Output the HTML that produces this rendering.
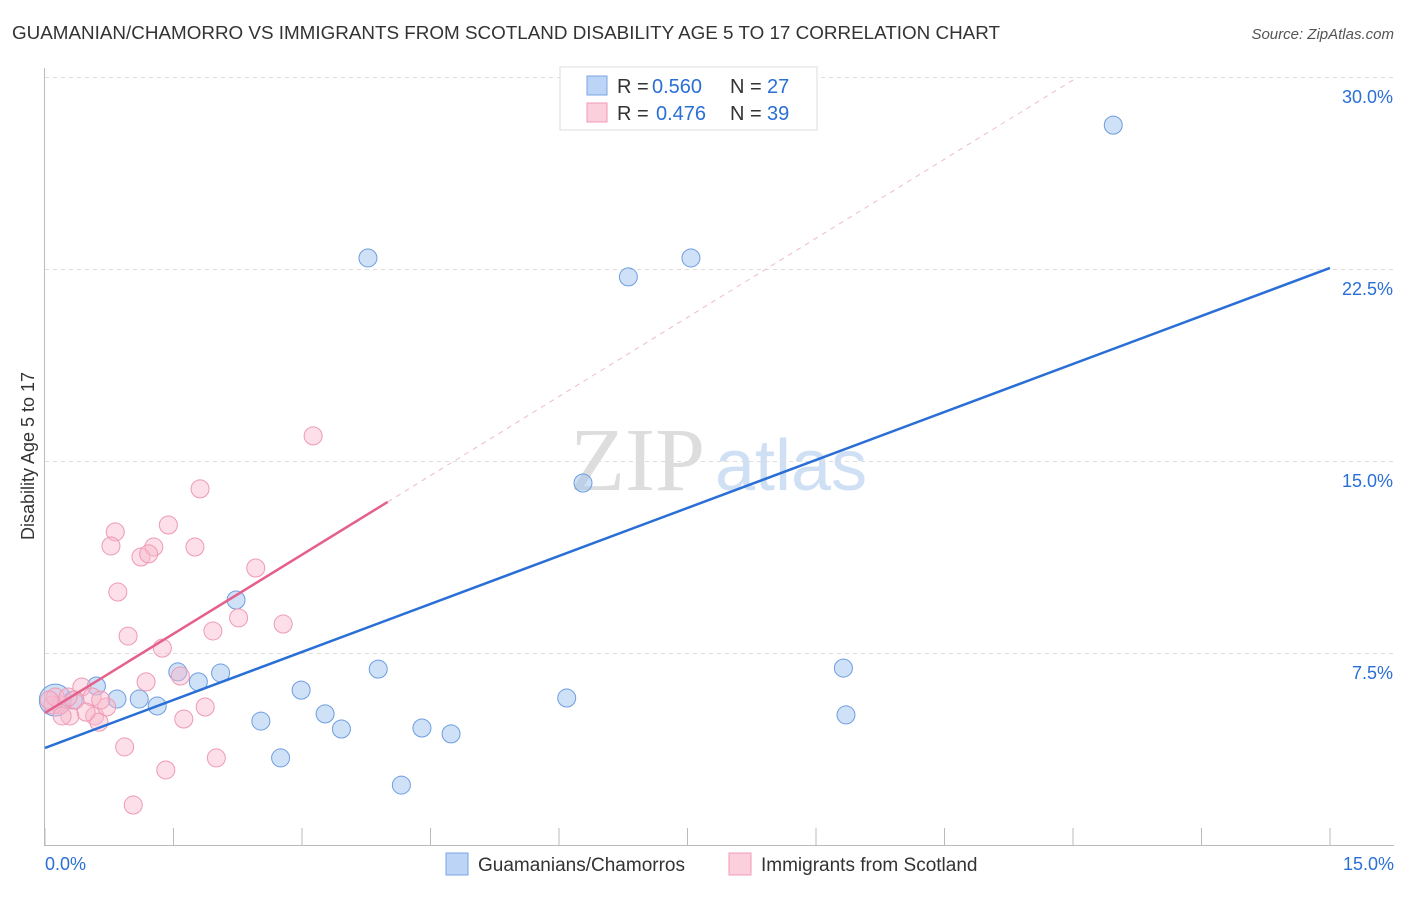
<!DOCTYPE html>
<html><head><meta charset="utf-8"><style>
body{margin:0;background:#fff;font-family:"Liberation Sans",sans-serif}
</style></head><body>
<svg id="c" width="1406" height="892" xmlns="http://www.w3.org/2000/svg">
<text x="12" y="39" font-size="18" textLength="988" lengthAdjust="spacingAndGlyphs" fill="#333">GUAMANIAN/CHAMORRO VS IMMIGRANTS FROM SCOTLAND DISABILITY AGE 5 TO 17 CORRELATION CHART</text>
<text x="1394" y="39" font-size="15" fill="#555" font-style="italic" text-anchor="end">Source: ZipAtlas.com</text>
<text x="705" y="490" font-size="90" fill="#ddd" font-family="Liberation Serif" text-anchor="end">ZIP</text>
<text x="715" y="490" font-size="72" fill="#cfe0f5">atlas</text>
<text transform="translate(34,456) rotate(-90)" font-size="18" fill="#333" text-anchor="middle">Disability Age 5 to 17</text>
<g id="grid"></g><g id="marks"></g>
<g>
<rect x="560" y="67" width="257" height="63" fill="#fff" stroke="#ddd"/>
<rect x="587" y="76" width="20" height="19" fill="#bcd4f5" stroke="#7aa6e6"/>
<rect x="587" y="103" width="20" height="19" fill="#fbcfdc" stroke="#f09ab5"/>
<text x="617" y="93" font-size="20" fill="#333">R =</text>
<text x="652" y="93" font-size="20" fill="#2a6fd6">0.560</text>
<text x="730" y="93" font-size="20" fill="#333">N =</text>
<text x="767" y="93" font-size="20" fill="#2a6fd6">27</text>
<text x="617" y="120" font-size="20" fill="#333">R =</text>
<text x="656" y="120" font-size="20" fill="#2a6fd6">0.476</text>
<text x="730" y="120" font-size="20" fill="#333">N =</text>
<text x="767" y="120" font-size="20" fill="#2a6fd6">39</text>
</g>
<g>
<rect x="446" y="853" width="22" height="22" fill="#bcd4f5" stroke="#7aa6e6"/>
<text x="478" y="871" font-size="19" fill="#333">Guamanians/Chamorros</text>
<rect x="729" y="853" width="22" height="22" fill="#fbcfdc" stroke="#f09ab5"/>
<text x="761" y="871" font-size="19" fill="#333">Immigrants from Scotland</text>
</g>
</svg>
<script>
const blueX=[12.47,3.77,6.81,7.54,6.28,2.23,1.55,2.05,1.79,3.89,9.32,0.60,0.84,1.10,1.31,2.99,3.27,3.46,2.52,2.75,4.40,4.74,4.16,6.09,9.35,0.12,0.33];
const blueY=[28.16,22.97,22.23,22.97,14.18,9.61,6.80,6.76,6.41,6.91,6.95,6.25,5.74,5.74,5.47,6.09,5.16,4.57,4.88,3.44,4.61,4.38,2.38,5.78,5.12,5.70,5.70];
const pinkX=[3.13,1.81,1.44,0.82,0.77,1.27,1.75,1.12,1.21,2.46,0.85,2.26,2.78,0.97,1.96,1.37,1.18,1.58,1.87,1.62,0.43,0.58,0.29,0.63,0.93,1.41,1.03,2.00,0.72,0.55,0.18,0.09,0.35,0.48,0.20,0.12,0.65,0.27,0.05];
const pinkY=[16.02,13.95,12.54,12.27,11.72,11.68,11.68,11.29,11.41,10.86,9.92,8.91,8.67,8.20,8.40,7.73,6.41,6.64,5.43,4.96,6.21,5.08,5.08,4.84,3.87,2.97,1.60,3.44,5.43,5.82,5.51,5.51,5.70,5.23,5.08,5.82,5.70,5.82,5.70];
const yTicks=[7.5,15,22.5,30];
const yTickLabels=["7.5%","15.0%","22.5%","30.0%"];
const xTicks=[0,1.5,3,4.5,6,7.5,9,10.5,12,13.5,15];
const blueLine=[3.83,22.58]; // y at x=0 and x=15
const pinkLine=[5.20,2.06]; // intercept, slope
const pinkSolidEnd=4.0;
const sx=v=>45+v/15*1285, sy=v=>846-v/7.5*192;
const NS="http://www.w3.org/2000/svg";
const g=document.getElementById('grid'), m=document.getElementById('marks');
function el(t,a,p){const e=document.createElementNS(NS,t);for(const k in a)e.setAttribute(k,a[k]);p.appendChild(e);return e;}
yTicks.forEach((t,i)=>{
 const l=el('line',{x1:45,x2:1394,y1:sy(t)-0.5,y2:sy(t)-0.5,stroke:'#ddd','stroke-dasharray':'4,4'},g);
 
 
 const tx=el('text',{x:1393,y:sy(t)+25,'font-size':18,fill:'#2a6fd6','text-anchor':'end'},g);
 tx.textContent=yTickLabels[i];
 
 
});
const ax=el('line',{x1:44.5,x2:44.5,y1:68,y2:846,stroke:'#bbb'},g);


const bx=el('line',{x1:45,x2:1394,y1:845.5,y2:845.5,stroke:'#bbb'},g);


xTicks.forEach(t=>{const l=el('line',{x1:sx(t),x2:sx(t),y1:828,y2:846,stroke:'#bbb'},g);
 
 });
[["0.0%",45,'start'],["15.0%",1394,'end']].forEach(([s,x,a])=>{const t=el('text',{x:x,y:870,'font-size':18,fill:'#2a6fd6','text-anchor':a},g);t.textContent=s;
 
 });
blueX.forEach((x,i)=>{const c=el('circle',{cx:sx(x),cy:sy(blueY[i]),r:i==25?16:9,fill:'rgba(160,195,240,0.5)',stroke:'#6d9de0','stroke-width':1},m);
 
 });
pinkX.forEach((x,i)=>{const c=el('circle',{cx:sx(x),cy:sy(pinkY[i]),r:9,fill:'rgba(248,185,205,0.45)',stroke:'#ee9ab4','stroke-width':1},m);
 
 });
const bl=el('line',{x1:sx(0),y1:sy(blueLine[0]),x2:sx(15),y2:sy(blueLine[1]),stroke:'#2a6fd6','stroke-width':2.5},m);


const xe=(30-pinkLine[0])/pinkLine[1];
const pd=el('line',{x1:sx(pinkSolidEnd),y1:sy(pinkLine[0]+pinkLine[1]*pinkSolidEnd),x2:sx(xe),y2:sy(30),stroke:'#eebbcc','stroke-width':1,'stroke-dasharray':'5,5'},m);


const pl=el('line',{x1:sx(0),y1:sy(pinkLine[0]),x2:sx(pinkSolidEnd),y2:sy(pinkLine[0]+pinkLine[1]*pinkSolidEnd),stroke:'#e4608b','stroke-width':2.5},m);


</script>
</body></html>
